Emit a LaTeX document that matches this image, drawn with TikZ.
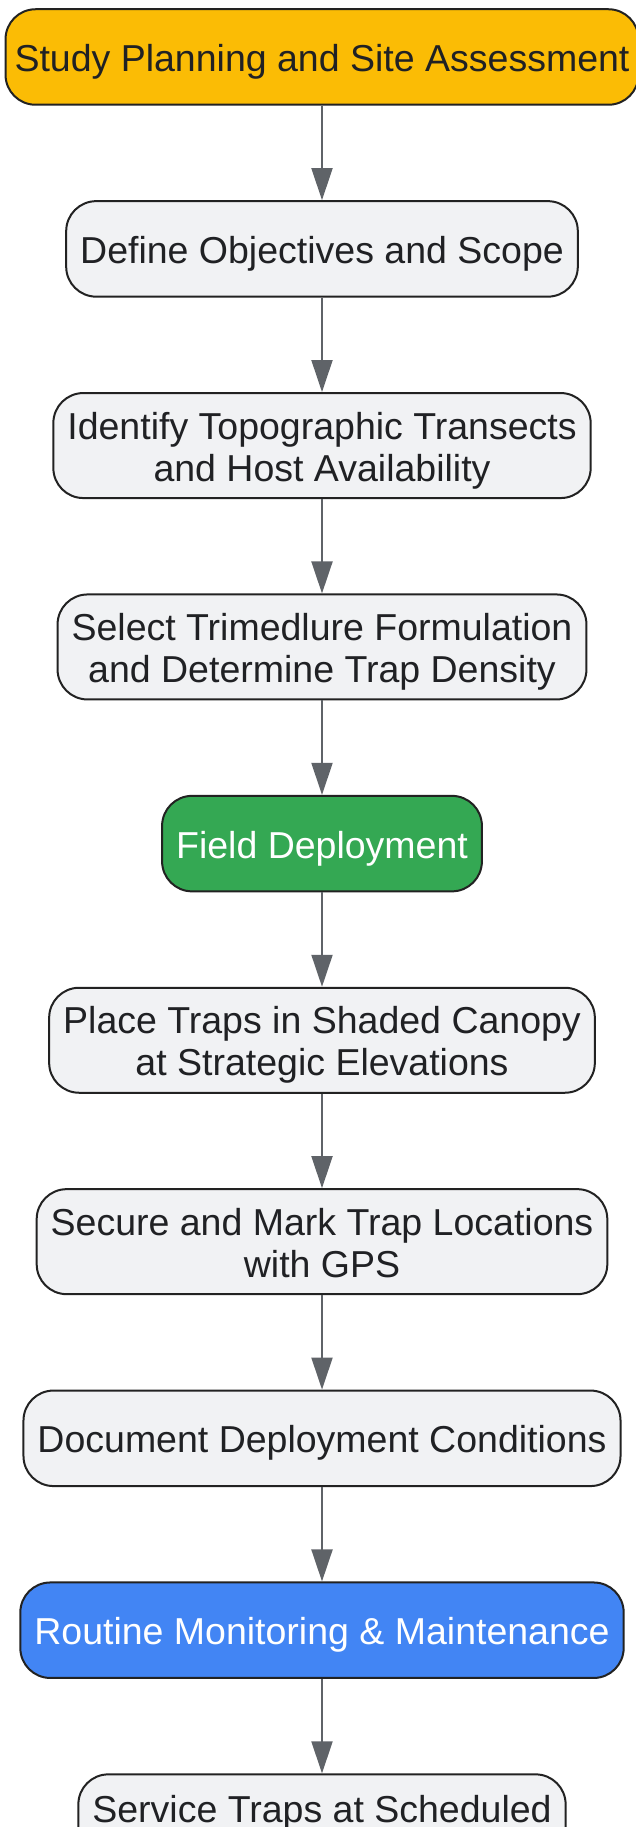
\documentclass[tikz,border=0pt]{standalone}
\usepackage{fontspec}
\setmainfont{Liberation Sans}
\usepackage{tikz}
\usetikzlibrary{positioning,arrows.meta}
\definecolor{planyellow}{HTML}{FBBC05}
\definecolor{deploygreen}{HTML}{34A853}
\definecolor{monitorblue}{HTML}{4285F4}
\definecolor{boxgray}{HTML}{F1F2F4}
\definecolor{edgedark}{HTML}{222222}
\definecolor{textdark}{HTML}{202124}
\definecolor{arrowgray}{HTML}{5F6368}

\begin{document}
\begin{tikzpicture}[x=1pt, y=1pt, node distance=94.4pt,
    stepbox/.style={draw=edgedark, line width=2pt, rounded corners=30pt, fill=boxgray, text=textdark, align=center, inner xsep=14pt, inner ysep=0pt, minimum height=95.5pt, text height=29pt, text depth=0pt, font=\fontsize{37.5}{42}\selectfont},
    tall/.style={minimum height=105pt, text height=71pt},
    flow/.style={draw=arrowgray, line width=2pt, -{Triangle[length=32pt, width=21pt, fill=arrowgray]}}]
    \useasboundingbox (0,0) rectangle (636,-1827);
    \node[stepbox, fill=planyellow, inner xsep=9pt] (plan) at (322,-57) {Study Planning and Site Assessment};
    \node[stepbox, below=of plan] (objectives) {Define Objectives and Scope};
    \node[stepbox, tall, below=of objectives] (transects) {Identify Topographic Transects\\and Host Availability};
    \node[stepbox, tall, below=of transects] (lure) {Select Trimedlure Formulation\\and Determine Trap Density};
    \node[stepbox, fill=deploygreen, text=white, below=of lure] (deploy) {Field Deployment};
    \node[stepbox, tall, below=of deploy] (place) {Place Traps in Shaded Canopy\\at Strategic Elevations};
    \node[stepbox, tall, below=of place] (mark) {Secure and Mark Trap Locations\\with GPS};
    \node[stepbox, below=of mark] (conditions) {Document Deployment Conditions};
    \node[stepbox, fill=monitorblue, text=white, below=of conditions] (monitor) {Routine Monitoring \& Maintenance};
    \node[stepbox, tall, text height=29pt, text depth=38pt, below=of monitor] (service) {Service Traps at Scheduled};
    \foreach \a/\b in {plan/objectives, objectives/transects, transects/lure, lure/deploy, deploy/place, place/mark, mark/conditions, conditions/monitor, monitor/service}
        \draw[flow] (\a) -- (\b);
\end{tikzpicture}
\end{document}
